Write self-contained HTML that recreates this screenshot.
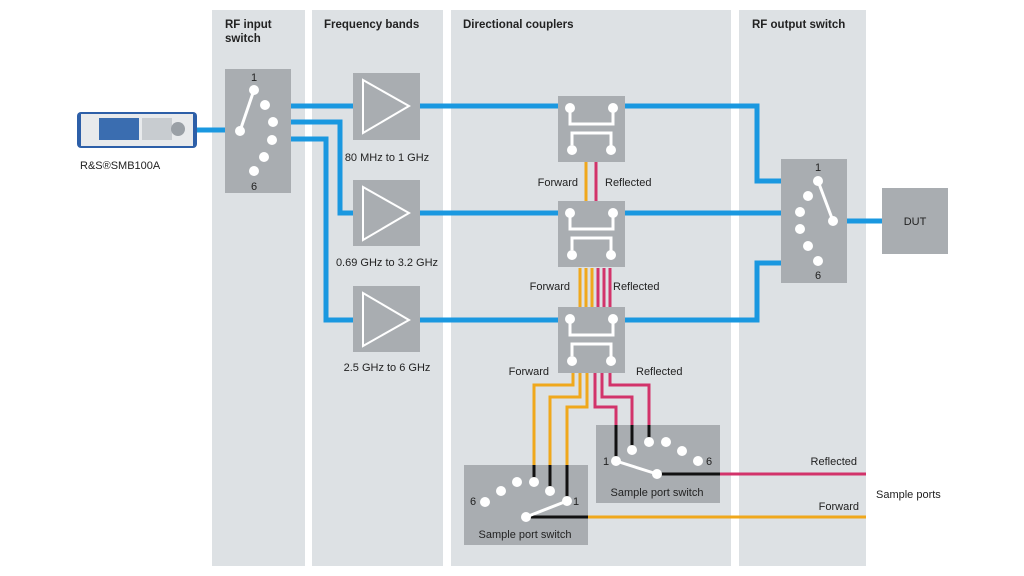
<!DOCTYPE html>
<html><head><meta charset="utf-8"><style>
html,body{margin:0;padding:0;background:#fff}
svg{display:block}
text{font-family:"Liberation Sans",sans-serif;font-size:11px;fill:#222}
.h{font-weight:bold;font-size:11.5px}
</style></head><body>
<svg width="1024" height="576" viewBox="0 0 1024 576">
<g fill="#dde1e4">
<rect x="212" y="10" width="93" height="556"/>
<rect x="312" y="10" width="131" height="556"/>
<rect x="451" y="10" width="280" height="556"/>
<rect x="739" y="10" width="127" height="556"/>
</g>
<text class="h" x="225" y="28">RF input</text>
<text class="h" x="225" y="42">switch</text>
<text class="h" x="324" y="28">Frequency bands</text>
<text class="h" x="463" y="28">Directional couplers</text>
<text class="h" x="752" y="28">RF output switch</text>

<!-- instrument -->
<rect x="77" y="112" width="120" height="36" rx="4" fill="#2d5fa8"/>
<rect x="81" y="114" width="112" height="32" fill="#e8eaec"/>
<rect x="99" y="118" width="40" height="22" fill="#3a6db0"/>
<rect x="142" y="118" width="30" height="22" fill="#c8ccd0"/>
<circle cx="178" cy="129" r="7" fill="#9aa0a6"/>
<text x="80" y="169">R&amp;S®SMB100A</text>

<!-- blue lines -->
<g stroke="#1a98e0" stroke-width="5" fill="none">
<path d="M197 130H225"/>
<path d="M291 106H353"/>
<path d="M291 122H340V213H353"/>
<path d="M291 139H326V320H353"/>
<path d="M420 106H558M625 106H757V181H781"/>
<path d="M420 213H558M625 213H781"/>
<path d="M420 320H558M625 320H757V263H781"/>
<path d="M847 221H882"/>
</g>

<!-- coupler interconnects -->
<g stroke-width="3" fill="none">
<path d="M586 162V201" stroke="#f0a81c"/>
<path d="M596 162V201" stroke="#d2336a"/>
<path d="M580 268V307M586 268V307M592 268V307" stroke="#f0a81c"/>
<path d="M598 268V307M604 268V307M610 268V307" stroke="#d2336a"/>
<path d="M573 373V385H534V466M580 373V397H550V466M587 373V407H567V466" stroke="#f0a81c"/>
<path d="M595 373V407H616V426M602 373V397H632V426M610 373V385H649V426" stroke="#d2336a"/>
<path d="M588 517H866" stroke="#f0a81c"/>
<path d="M720 474H866" stroke="#d2336a"/>
</g>

<!-- input switch -->
<rect x="225" y="69" width="66" height="124" fill="#a9adb1"/>
<text x="251" y="81">1</text><text x="251" y="190">6</text>
<g fill="#fff">
<circle cx="254" cy="90" r="5"/><circle cx="265" cy="105" r="5"/><circle cx="273" cy="122" r="5"/>
<circle cx="272" cy="140" r="5"/><circle cx="264" cy="157" r="5"/><circle cx="254" cy="171" r="5"/>
<circle cx="240" cy="131" r="5"/>
</g>
<path d="M240 131L254 90" stroke="#fff" stroke-width="3"/>

<!-- amplifiers -->
<g>
<rect x="353" y="73" width="67" height="67" fill="#a9adb1"/>
<rect x="353" y="180" width="67" height="66" fill="#a9adb1"/>
<rect x="353" y="286" width="67" height="66" fill="#a9adb1"/>
<g fill="none" stroke="#fff" stroke-width="2">
<path d="M363 80V133L409 106Z"/>
<path d="M363 187V240L409 213Z"/>
<path d="M363 293V346L409 320Z"/>
</g>
</g>
<text x="387" y="161" text-anchor="middle">80 MHz to 1 GHz</text>
<text x="387" y="266" text-anchor="middle">0.69 GHz to 3.2 GHz</text>
<text x="387" y="371" text-anchor="middle">2.5 GHz to 6 GHz</text>

<!-- couplers -->
<g id="cp">
<rect x="558" y="96" width="67" height="66" fill="#a9adb1"/>
<path d="M570 108V124H613V108M572 145V133H611V150" stroke="#fff" stroke-width="3" fill="none"/>
<g fill="#fff"><circle cx="570" cy="108" r="5"/><circle cx="613" cy="108" r="5"/><circle cx="572" cy="150" r="5"/><circle cx="611" cy="150" r="5"/></g>
</g>
<use href="#cp" y="105"/>
<use href="#cp" y="211"/>

<text x="578" y="186" text-anchor="end">Forward</text>
<text x="605" y="186">Reflected</text>
<text x="570" y="290" text-anchor="end">Forward</text>
<text x="613" y="290">Reflected</text>
<text x="549" y="375" text-anchor="end">Forward</text>
<text x="636" y="375">Reflected</text>

<!-- sample switch 2 -->
<rect x="596" y="425" width="124" height="78" fill="#a9adb1"/>
<g stroke="#111" stroke-width="3" fill="none"><path d="M616 425V461M632 425V450M649 425V442M657 474H720"/></g>
<path d="M616 461L657 474" stroke="#fff" stroke-width="3"/>
<g fill="#fff"><circle cx="616" cy="461" r="5"/><circle cx="632" cy="450" r="5"/><circle cx="649" cy="442" r="5"/><circle cx="666" cy="442" r="5"/><circle cx="682" cy="451" r="5"/><circle cx="698" cy="461" r="5"/><circle cx="657" cy="474" r="5"/></g>
<text x="603" y="465">1</text><text x="706" y="465">6</text>
<text x="657" y="496" text-anchor="middle">Sample port switch</text>

<!-- sample switch 1 -->
<rect x="464" y="465" width="124" height="80" fill="#a9adb1"/>
<g stroke="#111" stroke-width="3" fill="none"><path d="M534 465V482M550 465V491M567 465V501M526 517H588"/></g>
<path d="M526 517L567 501" stroke="#fff" stroke-width="3"/>
<g fill="#fff"><circle cx="485" cy="502" r="5"/><circle cx="501" cy="491" r="5"/><circle cx="517" cy="482" r="5"/><circle cx="534" cy="482" r="5"/><circle cx="550" cy="491" r="5"/><circle cx="567" cy="501" r="5"/><circle cx="526" cy="517" r="5"/></g>
<text x="470" y="505">6</text><text x="573" y="505">1</text>
<text x="525" y="538" text-anchor="middle">Sample port switch</text>

<!-- output switch -->
<rect x="781" y="159" width="66" height="124" fill="#a9adb1"/>
<text x="815" y="171">1</text><text x="815" y="279">6</text>
<g fill="#fff"><circle cx="818" cy="181" r="5"/><circle cx="808" cy="196" r="5"/><circle cx="800" cy="212" r="5"/><circle cx="800" cy="229" r="5"/><circle cx="808" cy="246" r="5"/><circle cx="818" cy="261" r="5"/><circle cx="833" cy="221" r="5"/></g>
<path d="M818 181L833 221" stroke="#fff" stroke-width="3"/>

<rect x="882" y="188" width="66" height="66" fill="#a9adb1"/>
<text x="915" y="225" text-anchor="middle">DUT</text>

<text x="857" y="465" text-anchor="end">Reflected</text>
<text x="859" y="510" text-anchor="end">Forward</text>
<text x="876" y="498">Sample ports</text>
</svg>
</body></html>
